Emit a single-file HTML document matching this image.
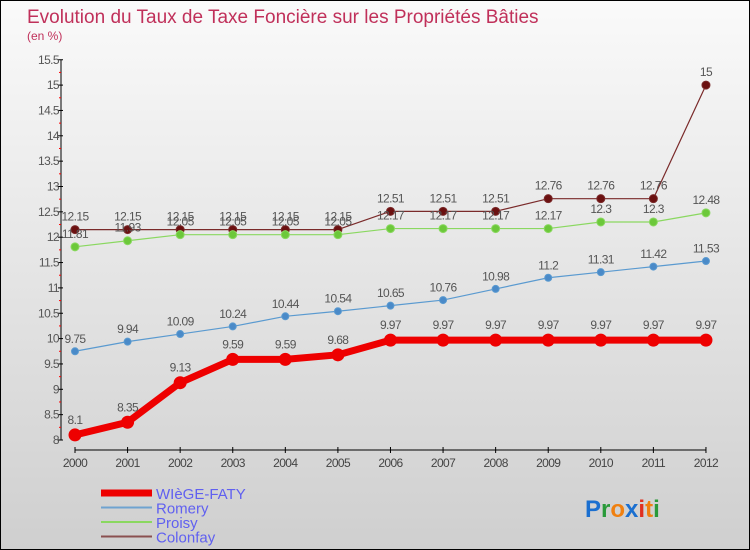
<!DOCTYPE html>
<html><head><meta charset="utf-8"><style>
html,body{margin:0;padding:0;}
body{width:750px;height:550px;overflow:hidden;font-family:"Liberation Sans",sans-serif;}
#wrap{position:relative;width:748px;height:548px;border:1px solid #000;background:linear-gradient(#fafafa,#cfcfcf);}
svg{position:absolute;left:0;top:0;}
</style></head><body>
<div id="wrap">
<svg id="chart" width="748" height="548"></svg>
</div>
<script>
const years=[2000,2001,2002,2003,2004,2005,2006,2007,2008,2009,2010,2011,2012];
const wiege=[8.1,8.35,9.13,9.59,9.59,9.68,9.97,9.97,9.97,9.97,9.97,9.97,9.97];
const romery=[9.75,9.94,10.09,10.24,10.44,10.54,10.65,10.76,10.98,11.2,11.31,11.42,11.53];
const proisy=[11.81,11.93,12.05,12.05,12.05,12.05,12.17,12.17,12.17,12.17,12.3,12.3,12.48];
const colonfay=[12.15,12.15,12.15,12.15,12.15,12.15,12.51,12.51,12.51,12.76,12.76,12.76,15];
const yTicks=[8,8.5,9,9.5,10,10.5,11,11.5,12,12.5,13,13.5,14,14.5,15,15.5];
const seriesNames=["WIèGE-FATY","Romery","Proisy","Colonfay"];

const NS="http://www.w3.org/2000/svg";
const svg=document.getElementById('chart');
const X=i=>74+i*52.58;
const Y=v=>439-(v-8)*50.7;
function mk(t,a){const e=document.createElementNS(NS,t);for(const k in a)e.setAttribute(k,a[k]);svg.appendChild(e);return e;}
function txt(x,y,s,a){const e=mk('text',Object.assign({x:x,y:y},a));e.textContent=s;return e;}

let t=txt(26,22,"Evolution du Taux de Taxe Foncière sur les Propriétés Bâties",{fill:"#c0305a","font-size":19,"font-weight":"normal"});

t=txt(26,39,"(en %)",{fill:"#c0305a","font-size":12});


let ax=mk('line',{x1:60,y1:Y(15.5),x2:60,y2:Y(8),stroke:"#000","stroke-width":1});

ax=mk('line',{x1:X(0),y1:449,x2:X(12),y2:449,stroke:"#000","stroke-width":1});

yTicks.forEach((v,i)=>{
  let l=mk('line',{x1:57,y1:Y(v),x2:62,y2:Y(v),stroke:"#000"});
  
  let tt=txt(58,Y(v)+4,String(v),{fill:"#555","font-size":12,"text-anchor":"end","letter-spacing":"-0.6"});
  
  if(i<yTicks.length-1){let m=mk('line',{x1:58,y1:Y(v+0.25),x2:60,y2:Y(v+0.25),stroke:"#f00"});
  }
});
years.forEach((yr,i)=>{
  let l=mk('line',{x1:X(i),y1:446,x2:X(i),y2:452,stroke:"#000"});
  
  let tt=txt(X(i),466,String(yr),{fill:"#444","font-size":12,"text-anchor":"middle","letter-spacing":"-0.6"});
  
});
function series(vals,color,fill,w,r,name){
  const g=document.createElementNS(NS,'g');svg.appendChild(g);
  
  const p=document.createElementNS(NS,'polyline');
  p.setAttribute('points',vals.map((v,i)=>X(i)+","+Y(v)).join(" "));
  p.setAttribute('fill','none');p.setAttribute('stroke',color);p.setAttribute('stroke-width',w);p.setAttribute('stroke-linejoin','round');
  
  g.appendChild(p);
  vals.forEach((v,i)=>{
    const c=document.createElementNS(NS,'circle');
    c.setAttribute('cx',X(i));c.setAttribute('cy',Y(v));c.setAttribute('r',r);c.setAttribute('fill',fill);c.setAttribute('stroke',color);
    
    g.appendChild(c);
    const tt=document.createElementNS(NS,'text');
    tt.setAttribute('x',X(i));tt.setAttribute('y',Y(v)-(r+5));tt.setAttribute('fill','#555');tt.setAttribute('font-size',12);tt.setAttribute('text-anchor','middle');tt.setAttribute('letter-spacing','-0.6');
    tt.textContent=String(v);
    
    g.appendChild(tt);
  });
}
series(colonfay,"#7a2a2a","#6b1010",1.2,4,"colonfay");
series(proisy,"#8ad860","#6cc83a",1.2,4,"proisy");
series(romery,"#5a9ad0","#4a8ac8",1.2,3.5,"romery");
series(wiege,"#ee0000","#ee0000",7,6,"wiege-faty");

const legColors=["#ee0000","#6fa3d0","#8ad860","#8a5050"];
const legW=[7,2,2,2];
seriesNames.forEach((n,i)=>{
  const y=492+i*14.5;
  let l=mk('line',{x1:100,y1:y,x2:151,y2:y,stroke:legColors[i],"stroke-width":legW[i]});
  
  let tt=txt(155,y+6,n,{fill:"#6060f0","font-size":15});
  
});
const logo=mk('text',{x:584,y:516,"font-size":24,"font-weight":"600"});

[["P","#1a6fd0"],["r","#2a9a3a"],["o","#f08010"],["x","#1a6fd0"],["i","#e03020"],["t","#f08010"],["i","#2a9a3a"]].forEach(([c,col])=>{
  const s=document.createElementNS(NS,'tspan');s.setAttribute('fill',col);s.textContent=c;logo.appendChild(s);
});
</script>
</body></html>
